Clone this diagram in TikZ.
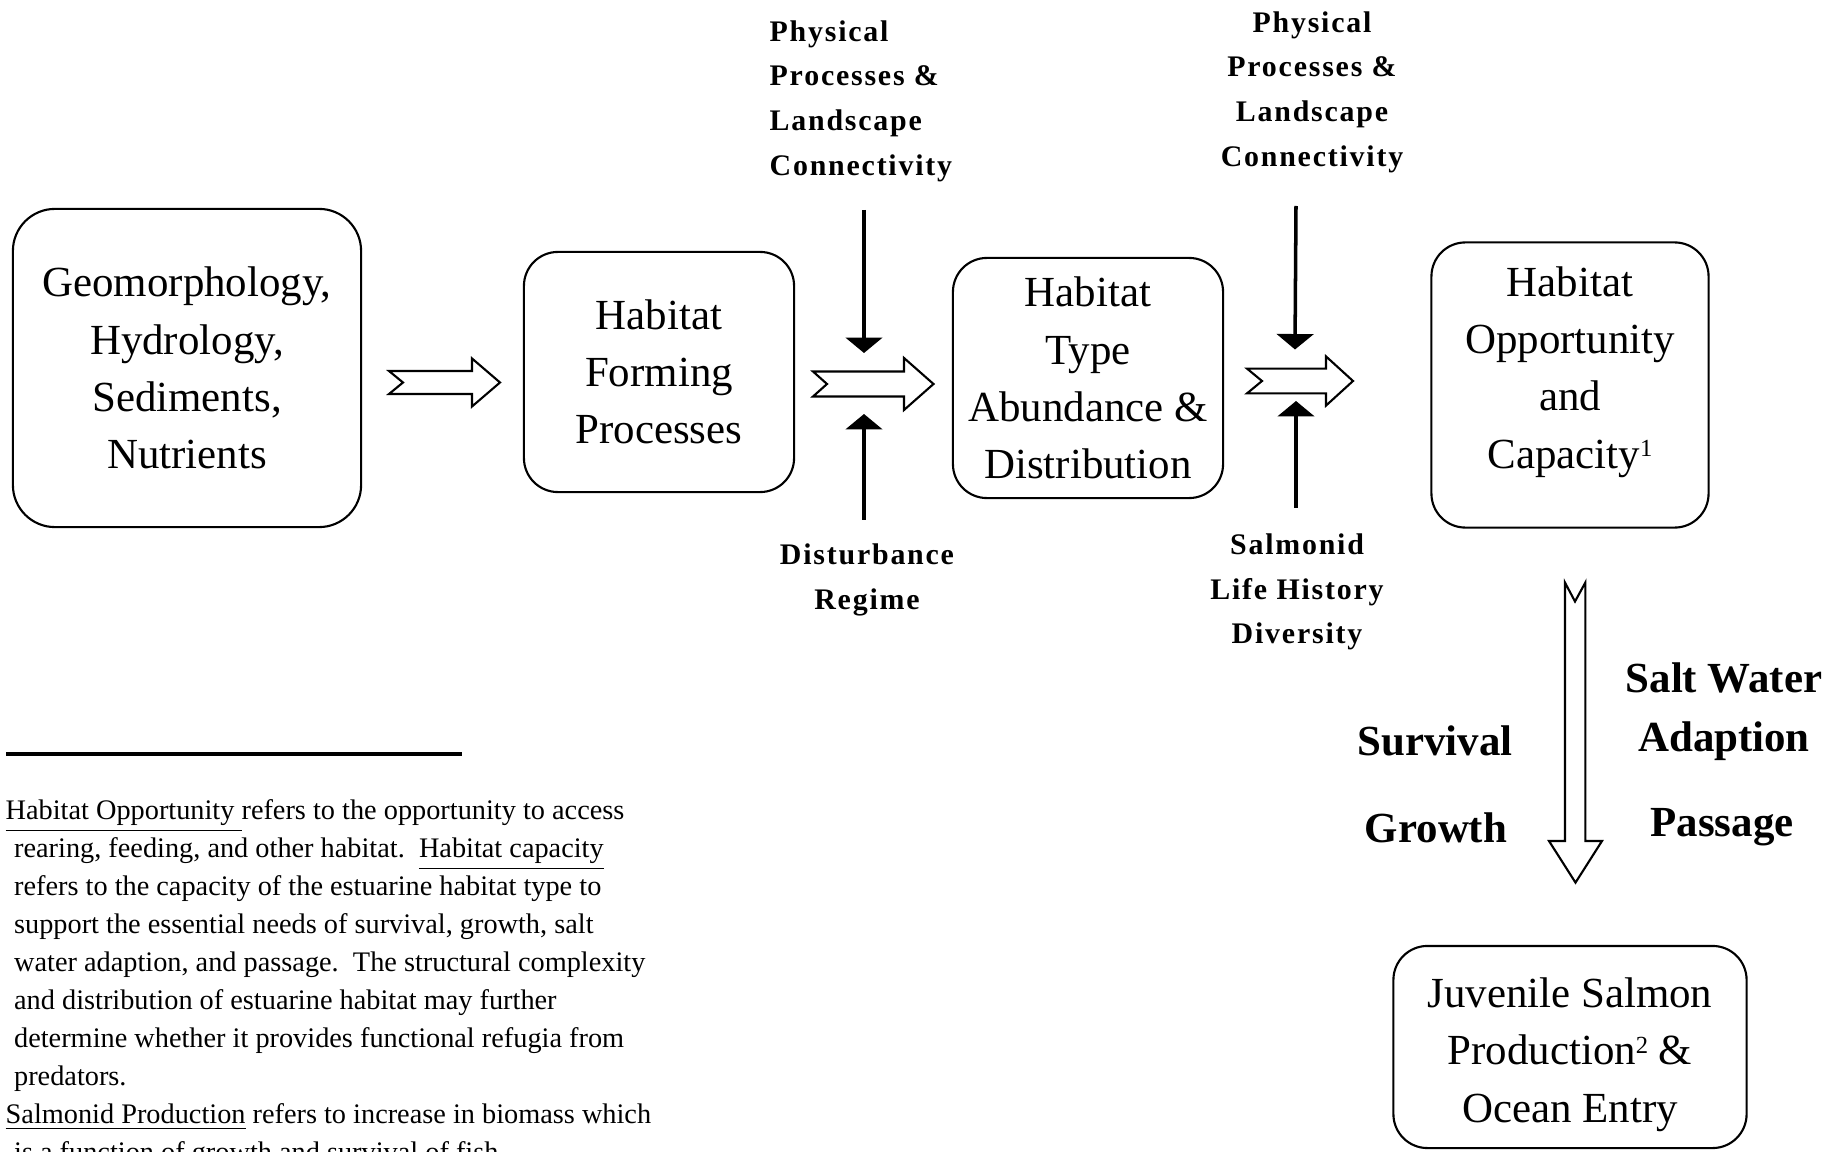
\documentclass[tikz,border=0pt]{standalone}
\usepackage{fontspec}
\setmainfont{Liberation Serif}
\usetikzlibrary{arrows.meta,positioning}
\newcommand{\supnum}[1]{\raisebox{3.2pt}{\fontsize{7}{7}\selectfont #1}}
\frenchspacing

\begin{document}
\begin{tikzpicture}[x=0.01cm,y=-0.01cm]
  \useasboundingbox (0,0) rectangle (1839,1152);
  % boxes
  \begin{scope}[every node/.style={draw,rounded corners=0.34cm,line width=0.6pt,align=center,inner sep=0pt,font=\fontsize{12.2}{16.25}\selectfont}]
    \node[minimum width=3.48cm,minimum height=3.18cm,rounded corners=0.42cm] (geo) at (187,368) {Geomorphology,\\Hydrology,\\Sediments,\\Nutrients};
    \node[minimum width=2.70cm,minimum height=2.40cm] (form) at (659,372) {Habitat\\Forming\\Processes};
    \node[minimum width=2.70cm,minimum height=2.40cm] (type) at (1088,378) {Habitat\\Type\\Abundance \&\\Distribution};
    \node[minimum width=2.77cm,minimum height=2.85cm] (opp) at (1570,385) {Habitat\\Opportunity\\and\\Capacity\supnum{1}\\[-6.25pt]\mbox{}};
    \node[minimum width=3.53cm,minimum height=2.02cm] (juv) at (1570,1047) {\mbox{}\\[-3.4pt]Juvenile Salmon\\Production\supnum{2} \&\\Ocean Entry};
  \end{scope}
  % block arrows
  \begin{scope}[line width=0.6pt,line join=miter]
    \draw (389,371) -- (472,371) -- (472,358.5) -- (500,382.5) -- (472,406.5) -- (472,394) -- (389,394) -- (403,382.5) -- cycle;
    \draw (813,371.5) -- (904,371.5) -- (904,358) -- (933.5,384) -- (904,410) -- (904,396.5) -- (813,396.5) -- (827,384) -- cycle;
    \draw (1247,368.6) -- (1326,368.6) -- (1326,356.4) -- (1353,381) -- (1326,405.6) -- (1326,393.4) -- (1247,393.4) -- (1262,381) -- cycle;
    \draw (1565,582.6) -- (1575,601.5) -- (1585.3,582.6) -- (1585.3,841) -- (1602,841) -- (1575.5,882.6) -- (1549,841) -- (1565,841) -- cycle;
  \end{scope}
  % labels
  \begin{scope}[every node/.style={font=\fontsize{8.5}{12.7}\selectfont\bfseries\addfontfeature{LetterSpace=6},align=center,inner sep=0pt}]
    \node[anchor=west,align=left] (physA) at (769,101) {Physical\\Processes \&\\Landscape\\Connectivity};
    \node (physB) at (1312,92) {Physical\\Processes \&\\Landscape\\Connectivity};
    \node (dist) at (867,580) {Disturbance\\Regime};
    \node (life) at (1297,592) {Salmonid\\Life History\\Diversity};
  \end{scope}
  \begin{scope}[every node/.style={font=\fontsize{12.2}{16.7}\selectfont\bfseries,align=center,inner sep=0pt}]
    \node (surv) at (1435,741) {Survival};
    \node (grow) at (1436,828) {Growth};
    \node (salt) at (1724,712) {Salt Water\\Adaption};
    \node (pass) at (1722,827) {Passage};
  \end{scope}
  % input arrows
  \coordinate (inA) at (864,210);
  \coordinate (tipA) at (864,353);
  \coordinate (disA) at (864,520);
  \coordinate (tipD) at (864,414);
  \coordinate (inB) at (1296,206);
  \coordinate (tipB) at (1295,349.5);
  \coordinate (lifB) at (1296,507.6);
  \coordinate (tipL) at (1296,401);
  \begin{scope}[>={Triangle[width=10.4pt,length=4.4pt]},every edge/.style={draw=black,line width=1pt}]
    \path[->] (inA) edge (tipA);
    \path[->] (disA) edge (tipD);
    \path[->] (inB) edge (tipB);
    \path[->] (lifB) edge (tipL);
  \end{scope}
  % footnotes
  \coordinate (ruleL) at (6,754);
  \coordinate (ruleR) at (462,754);
  \draw[line width=1pt] (ruleL) -- (ruleR);
  \node[anchor=north west,align=left,inner sep=0pt,font=\fontsize{8.05}{10.8}\selectfont] (note) at (5,799)
    {\underline{Habitat Opportunity\ }refers to the opportunity to access\\
     \hspace*{2.4pt}rearing, feeding, and other habitat.\ \ \underline{Habitat capacity}\\
     \hspace*{2.4pt}refers to the capacity of the estuarine habitat type to\\
     \hspace*{2.4pt}support the essential needs of survival, growth, salt\\
     \hspace*{2.4pt}water adaption, and passage.\ \ The structural complexity\\
     \hspace*{2.4pt}and distribution of estuarine habitat may further\\
     \hspace*{2.4pt}determine whether it provides functional refugia from\\
     \hspace*{2.4pt}predators.\\
     \underline{Salmonid Production} refers to increase in biomass which\\
     \hspace*{2.4pt}is a function of growth and survival of fish.};
\end{tikzpicture}
\end{document}
